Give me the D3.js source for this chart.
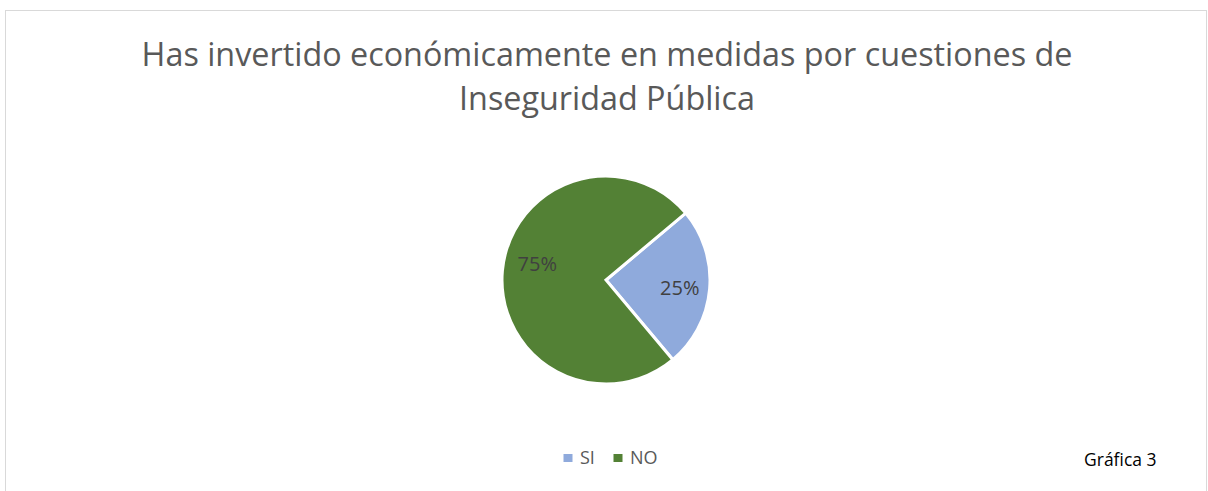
<!DOCTYPE html>
<html>
<head>
<meta charset="utf-8">
<script src="https://cdn.jsdelivr.net/npm/d3@7"></script>
<style>
  body { margin: 0; background: #fff; }
  svg text { font-family: "Open Sans", "Noto Sans", sans-serif; }
</style>
</head>
<body>
<svg id="chart" width="1208" height="491"></svg>
<script>
// data
const categories = ['SI', 'NO']
const values = [25, 75]
const colors = ['#8faadc', '#538135']
const titleLines = ['Has invertido económicamente en medidas por cuestiones de', 'Inseguridad Pública']

const svg = d3.select('#chart')

// chart frame
svg.append('rect')
    .attr('x', 5.5).attr('y', 10.5)
    .attr('width', 1201).attr('height', 490)
    .attr('fill', 'none')
    .attr('stroke', '#d9d9d9')

// title, sized so the first line spans ~931px like the original
const title = svg.selectAll('text.title')
    .data(titleLines)
    .enter()
    .append('text')
    .attr('class', 'title')
    .attr('x', 607)
    .attr('y', (d, i) => 66 + i * 44)
    .attr('text-anchor', 'middle')
    .attr('font-size', 32)
    .attr('fill', '#595959')
    .text(d => d)
const w0 = title.node().getComputedTextLength()
title.attr('font-size', 32 * 931 / w0)

// pie
const cx = 606, cy = 280, r = 104
const start = 50 * Math.PI / 180
const pie = d3.pie().sort(null).startAngle(start).endAngle(start + 2 * Math.PI)
const arcs = pie(values)
const arc = d3.arc().innerRadius(0).outerRadius(r)
const labelArc = d3.arc().innerRadius(72).outerRadius(72)
// small nudges to mimic Excel's best-fit label placement
const labelNudge = [[2, 2], [3, -10]]

const g = svg.append('g').attr('transform', `translate(${cx},${cy})`)
g.selectAll('path')
    .data(arcs)
    .enter()
    .append('path')
    .attr('d', arc)
    .attr('fill', (d, i) => colors[i])
    .attr('stroke', '#fff')
    .attr('stroke-width', 3)
    .attr('stroke-linejoin', 'miter')

g.selectAll('text')
    .data(arcs)
    .enter()
    .append('text')
    .attr('transform', (d, i) => {
        const c = labelArc.centroid(d)
        return `translate(${c[0] + labelNudge[i][0]},${c[1] + labelNudge[i][1]})`
    })
    .attr('text-anchor', 'middle')
    .attr('dy', '0.36em')
    .attr('font-size', 20)
    .attr('fill', '#404040')
    .text(d => Math.round(d.data / d3.sum(values) * 100) + '%')

// legend
const legendX = [568, 618]
const legend = svg.selectAll('g.legend')
    .data(categories)
    .enter()
    .append('g')
    .attr('class', 'legend')
    .attr('transform', (d, i) => `translate(${legendX[i]},458)`)
legend.append('rect')
    .attr('x', -4.5).attr('y', -4)
    .attr('width', 9).attr('height', 8)
    .attr('fill', (d, i) => colors[i])
legend.append('text')
    .attr('x', 12)
    .attr('y', 6)
    .attr('font-size', 18)
    .attr('fill', '#595959')
    .text(d => d)

// footnote
svg.append('text')
    .attr('x', 1084)
    .attr('y', 466)
    .attr('font-size', 17.5)
    .attr('fill', '#000')
    .text('Gráfica 3')
</script>
</body>
</html>
